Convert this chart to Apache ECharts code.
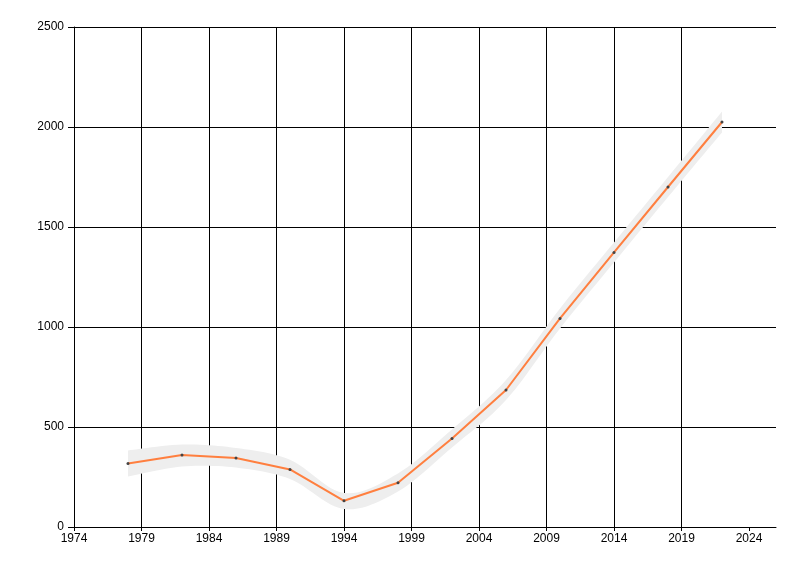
<!DOCTYPE html>
<html><head><meta charset="utf-8">
<script src="https://cdn.jsdelivr.net/npm/echarts@6/dist/echarts.min.js"></script>
<style>html,body{margin:0;padding:0;background:#fff}#c{width:800px;height:576px}</style>
</head><body><div id="c"></div>
<script>
const years = [1978, 1982, 1986, 1990, 1994, 1998, 2002, 2006, 2010, 2014, 2018, 2022];
const values = [318, 360, 345, 288, 131, 221, 443, 685, 1043, 1373, 1700, 2025];
const bandLow = [253, 302, 297, 240, 90, 178, 398, 635, 993, 1323, 1650, 1973];
const bandHigh = [383, 412, 395, 336, 170, 268, 488, 735, 1093, 1423, 1750, 2077];
const xStart = 1974;
const xEnd = 2026;
const yTicks = [0, 500, 1000, 1500, 2000, 2500];

const off = y => y - xStart;
const lineData = years.map((y, i) => [off(y), values[i]]);
const bandData = years.map((y, i) => [off(y), bandLow[i], bandHigh[i]]);
const xTickVals = [];
for (let v = 0; v <= xEnd - xStart; v += 5) xTickVals.push(v);

// Catmull-Rom smoothing in pixel space
function spline(pts, steps) {
  const out = [];
  for (let i = 0; i < pts.length - 1; i++) {
    const p0 = pts[Math.max(i - 1, 0)], p1 = pts[i], p2 = pts[i + 1], p3 = pts[Math.min(i + 2, pts.length - 1)];
    for (let s = 0; s < steps; s++) {
      const t = s / steps, t2 = t * t, t3 = t2 * t;
      const f = k => 0.5 * ((2 * p1[k]) + (-p0[k] + p2[k]) * t + (2 * p0[k] - 5 * p1[k] + 4 * p2[k] - p3[k]) * t2 + (-p0[k] + 3 * p1[k] - 3 * p2[k] + p3[k]) * t3);
      out.push([f(0), f(1)]);
    }
  }
  out.push(pts[pts.length - 1]);
  return out;
}

const font = 'Liberation Sans';
const chart = echarts.init(document.getElementById('c'));
chart.setOption({
  animation: false,
  grid: {left: 74, top: 27, right: 24, bottom: 49, containLabel: false},
  xAxis: {
    type: 'value', min: 0, max: xEnd - xStart, interval: 5,
    axisLine: {show: true, lineStyle: {color: '#000', width: 1}},
    axisTick: {show: true, length: 4, lineStyle: {color: '#000'}, customValues: xTickVals},
    axisLabel: {color: '#000', fontFamily: font, fontSize: 12, margin: 6,
      customValues: xTickVals, formatter: v => String(v + xStart)},
    splitLine: {show: true, showMaxLine: false, lineStyle: {color: '#000', width: 1}}
  },
  yAxis: {
    type: 'value', min: yTicks[0], max: yTicks[yTicks.length - 1], interval: 500,
    axisLine: {show: true, lineStyle: {color: '#000', width: 1}},
    axisTick: {show: true, length: 6, lineStyle: {color: '#000'}},
    axisLabel: {color: '#000', fontFamily: font, fontSize: 12, margin: 10, formatter: v => String(v)},
    splitLine: {show: true, lineStyle: {color: '#000', width: 1}}
  },
  series: [
    {type: 'custom', data: bandData, silent: true, z: 2, clip: true,
      renderItem: function (params, api) {
        if (params.dataIndex !== 0) return null;
        const up = bandData.map(d => api.coord([d[0], d[2]]));
        const lo = bandData.map(d => api.coord([d[0], d[1]]));
        const pts = spline(up, 12).concat(spline(lo, 12).reverse());
        return {type: 'polygon', shape: {points: pts}, style: {fill: '#eeeeee', stroke: null}};
      }},
    {type: 'line', data: lineData, symbol: 'circle', symbolSize: 3, showSymbol: true,
      itemStyle: {color: '#444444', borderWidth: 0},
      lineStyle: {color: '#ff7f3f', width: 2}, z: 5}
  ]
});
</script></body></html>
